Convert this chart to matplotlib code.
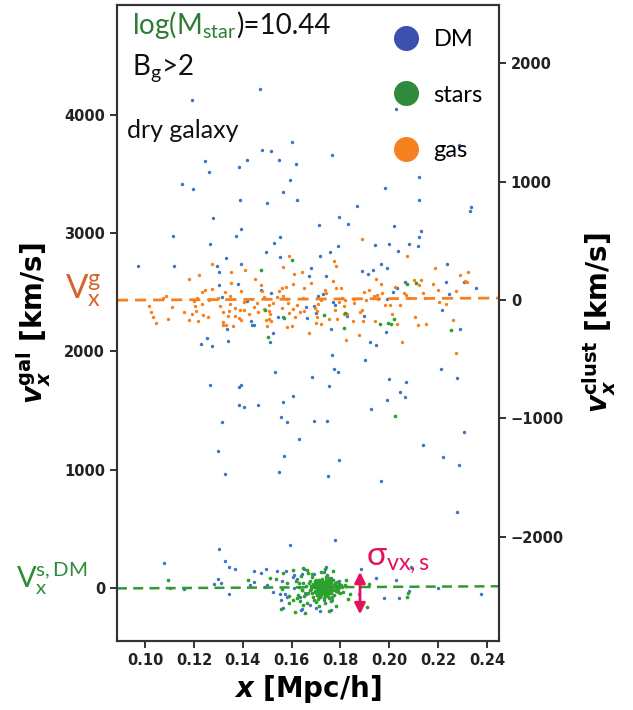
import matplotlib
matplotlib.use('Agg')
import matplotlib.pyplot as plt
from matplotlib.lines import Line2D
import numpy as np

plt.rcParams['mathtext.fontset'] = 'custom'
plt.rcParams['mathtext.rm'] = 'Lato'
plt.rcParams['mathtext.it'] = 'Lato:italic'
plt.rcParams['mathtext.sf'] = 'Lato'
plt.rcParams['mathtext.bf'] = 'DejaVu Sans:bold'
plt.rcParams['mathtext.bfit'] = 'DejaVu Sans:italic:bold'

# ---- data ----
# dark matter particles (x [Mpc/h], v_x gal [km/s])
dm_x = [0.1471, 0.1192, 0.2027, 0.2285, 0.1601, 0.1479, 0.1516, 0.1765, 0.1246, 0.1418,
        0.1549, 0.1618, 0.1385, 0.1262, 0.2122, 0.1594, 0.1151, 0.1196, 0.1982, 0.1565,
        0.1389, 0.1622, 0.2122, 0.1499, 0.1868, 0.2334, 0.2330, 0.1278, 0.1794,
        0.1115, 0.1393, 0.1373, 0.1712, 0.1831, 0.2019, 0.2130, 0.2122, 0.1553, 0.1266,
        0.1528, 0.1790, 0.1942, 0.1998, 0.2080, 0.2117, 0.1495, 0.1757, 0.2036, 0.1332,
        0.1553, 0.1716, 0.0971, 0.1119, 0.1393, 0.1295, 0.1679, 0.1966, 0.1990, 0.2236,
        0.1303, 0.1888, 0.1912, 0.1933, 0.1671, 0.1740, 0.1380, 0.1303, 0.2064, 0.2232,
        0.2354, 0.1475, 0.2032, 0.1516, 0.2015, 0.2244, 0.2305, 0.1708, 0.1728, 0.1315,
        0.1417, 0.1769, 0.1990, 0.1659, 0.1691, 0.1777, 0.2216, 0.1700, 0.1544, 0.1565,
        0.1663, 0.1826, 0.1896, 0.1434, 0.1438, 0.1446, 0.1336, 0.1524, 0.1761, 0.1986,
        0.2289, 0.1254,
        0.1229, 0.1274, 0.1340, 0.1512, 0.1921, 0.1946, 0.1765, 0.1900, 0.1774, 0.1790,
        0.1532, 0.2212, 0.1683, 0.2277, 0.1998, 0.2068, 0.1266, 0.1393, 0.1385, 0.1753,
        0.2044, 0.2064, 0.1605, 0.1990, 0.1565, 0.1385, 0.1405, 0.1462, 0.1925, 0.1556,
        0.1581, 0.1691, 0.1744, 0.1315, 0.2305, 0.1630, 0.2138, 0.1299, 0.1569, 0.2220,
        0.1794, 0.2285,
        0.1328, 0.1549, 0.1749, 0.1966, 0.2277, 0.1303, 0.1594, 0.1778,
        0.1078, 0.1328, 0.1344, 0.1368, 0.1299, 0.1282, 0.1311, 0.1344, 0.1446, 0.1475,
        0.1495, 0.1540, 0.1577, 0.1561, 0.1446, 0.1499, 0.1430, 0.1524, 0.1553, 0.1573,
        0.1581, 0.1556, 0.1638, 0.1565, 0.1491, 0.1605, 0.1622, 0.1642, 0.1650, 0.1609,
        0.1634, 0.1609, 0.1691, 0.1732, 0.1740, 0.1761, 0.1794, 0.1655, 0.1712, 0.1732,
        0.1765, 0.1675, 0.1700, 0.1716, 0.1761, 0.1642, 0.1884, 0.1945, 0.1978, 0.2039,
        0.1876, 0.2088, 0.2027, 0.2080, 0.2199, 0.1159, 0.1102, 0.2377]
dm_v = [4217, 4124, 4048, 3743, 3769, 3701, 3693, 3659, 3608, 3617,
        3617, 3583, 3557, 3515, 3473, 3448, 3414, 3372, 3380, 3346,
        3279, 3279, 3279, 3253, 3228, 3219, 3186, 3127, 3135,
        2974, 3034, 2974, 3067, 3076, 3059, 3017, 2966, 2966, 2907,
        2915, 2890, 2898, 2907, 2907, 2890, 2839, 2839, 2848, 2789,
        2797, 2805, 2721, 2721, 2738, 2721, 2704, 2738, 2704, 2738,
        2670, 2679, 2653, 2687, 2636, 2636, 2569, 2560, 2586, 2586,
        2535, 2518, 2535, 2493, 2501, 2484, 2586, 2467, 2484, 2459,
        2425, 2417, 2442, 2374, 2383, 2391, 2349, 2324, 2290, 2290,
        2282, 2298, 2298, 2256, 2222, 2222, 2189, 2155, 2189, 2163,
        2189, 2113,
        2062, 2045, 2087, 2079, 2079, 2053, 1969, 1927, 1851, 1825,
        1825, 1851, 1783, 1775, 1766, 1741, 1715, 1715, 1698, 1707,
        1656, 1614, 1622, 1589, 1572, 1546, 1529, 1546, 1513, 1445,
        1403, 1411, 1411, 1403, 1318, 1259, 1208, 1158, 1115, 1107,
        1082, 1039,
        963, 980, 946, 904, 642, 330, 363, 406,
        211, 228, 177, 161, 76, 34, 42, -51, 144, 127,
        161, 144, 144, 59, 51, 25, 25, -34, -51, -51,
        -76, -101, -186, -169, 8, 93, 76, 118, 161, 0,
        -76, 110, 118, 135, 177, 85, 59, -42, -68, -101,
        -101, -144, -169, -194, -186, -177, 161, 85, -85, -85,
        -51, 177, 68, -25, 0, -8, 0, -51]

# gas particles
gas_x = [0.1888, 0.1589, 0.1773, 0.1781, 0.1274, 0.1565, 0.1409, 0.1352, 0.1642, 0.2072,
         0.2186, 0.2321, 0.2289, 0.1221, 0.1180, 0.1450, 0.1609, 0.1945, 0.1769, 0.1679,
         0.1352, 0.1605, 0.1475, 0.1966, 0.2101, 0.2130, 0.2179, 0.2309, 0.2317, 0.1577,
         0.1561, 0.1548, 0.1650, 0.1781, 0.1802, 0.2023, 0.2122, 0.1274, 0.1246, 0.1233,
         0.1327, 0.1393, 0.1479, 0.1737, 0.1741, 0.1896, 0.1917, 0.1970, 0.2060, 0.2138,
         0.2199, 0.2273, 0.1086, 0.1074, 0.1213, 0.1262, 0.1299, 0.1348, 0.1487, 0.1540,
         0.1565, 0.1581, 0.1646, 0.1720, 0.1806, 0.1818, 0.1855, 0.1904, 0.1937, 0.1949,
         0.1953, 0.2068, 0.2080, 0.2146, 0.2203, 0.2232, 0.1200, 0.1233, 0.1348, 0.1405,
         0.1458, 0.1508, 0.1524, 0.1585, 0.1622, 0.1708, 0.1794, 0.1855, 0.1982, 0.2003,
         0.2044, 0.1016, 0.1110, 0.1205, 0.1307, 0.1368, 0.1446, 0.1487, 0.1561, 0.1605,
         0.1696, 0.1814, 0.1888, 0.1025, 0.1160, 0.1209, 0.1319, 0.1344, 0.1389, 0.1405,
         0.1462, 0.1508, 0.1634, 0.1650, 0.1704, 0.1777, 0.1826, 0.1880, 0.2011, 0.1192,
         0.1237, 0.1340, 0.1368, 0.1425, 0.1512, 0.1589, 0.1614, 0.1704, 0.1753, 0.1786,
         0.1814, 0.1033, 0.1094, 0.1180, 0.1258, 0.1385, 0.1495, 0.1508, 0.1851, 0.1892,
         0.2105, 0.1217, 0.1319, 0.1045, 0.1393, 0.1516, 0.1700, 0.1942, 0.2032, 0.2117,
         0.2150, 0.2260, 0.1319, 0.1332, 0.1360, 0.1499, 0.1581, 0.1601, 0.1720, 0.1671,
         0.1876, 0.1822, 0.2052, 0.2273]
gas_v = [2949, 2805, 2763, 2721, 2738, 2712, 2687, 2670, 2670, 2805,
         2704, 2670, 2645, 2645, 2611, 2611, 2653, 2611, 2594, 2577,
         2577, 2569, 2560, 2569, 2603, 2603, 2569, 2594, 2586, 2543,
         2535, 2510, 2535, 2535, 2535, 2543, 2560, 2527, 2518, 2501,
         2501, 2510, 2510, 2518, 2493, 2501, 2518, 2493, 2493, 2493,
         2518, 2510, 2467, 2451, 2451, 2434, 2451, 2467, 2459, 2459,
         2467, 2442, 2451, 2434, 2451, 2434, 2442, 2434, 2467, 2476,
         2442, 2476, 2451, 2451, 2417, 2400, 2425, 2400, 2400, 2417,
         2408, 2391, 2408, 2408, 2391, 2400, 2417, 2408, 2391, 2391,
         2391, 2383, 2374, 2383, 2383, 2366, 2374, 2358, 2366, 2358,
         2366, 2383, 2349, 2332, 2332, 2341, 2332, 2341, 2349, 2349,
         2332, 2341, 2332, 2341, 2341, 2349, 2315, 2332, 2315, 2315,
         2307, 2298, 2298, 2315, 2315, 2324, 2290, 2290, 2273, 2273,
         2315, 2290, 2273, 2265, 2290, 2282, 2265, 2273, 2256, 2256,
         2290, 2256, 2248, 2239, 2265, 2256, 2239, 2256, 2231, 2222,
         2231, 2265, 2222, 2222, 2214, 2214, 2205, 2214, 2231, 2155,
         2138, 2096, 2079, 1986]

# star particles
star_x = [0.1475, 0.1601, 0.2073, 0.2110, 0.1491, 0.1569, 0.1732, 0.1818, 0.1994, 0.2006,
          0.2019, 0.1962, 0.1814, 0.2252, 0.1503, 0.2023,
          0.1094, 0.1421, 0.1512, 0.1565, 0.1536, 0.1561, 0.1589, 0.1556, 0.1605, 0.1646,
          0.1630, 0.1642, 0.1659, 0.1646, 0.1663, 0.1802, 0.1839, 0.1908, 0.1916, 0.2076,
          0.2072,
          0.1660, 0.1668, 0.1675, 0.1680, 0.1685, 0.1688, 0.1692, 0.1695, 0.1698, 0.1700,
          0.1702, 0.1705, 0.1707, 0.1709, 0.1710, 0.1712, 0.1714, 0.1715, 0.1717, 0.1718,
          0.1720, 0.1721, 0.1723, 0.1724, 0.1726, 0.1727, 0.1729, 0.1730, 0.1732, 0.1733,
          0.1735, 0.1737, 0.1738, 0.1740, 0.1742, 0.1744, 0.1746, 0.1748, 0.1750, 0.1752,
          0.1755, 0.1758, 0.1760, 0.1763, 0.1766, 0.1770, 0.1774, 0.1778, 0.1782, 0.1786,
          0.1790, 0.1652, 0.1648, 0.1643, 0.1638, 0.1635, 0.1630, 0.1626, 0.1795, 0.1800,
          0.1806, 0.1812, 0.1818, 0.1684, 0.1720, 0.1745, 0.1700, 0.1735, 0.1760, 0.1690,
          0.1668, 0.1712, 0.1580, 0.1590, 0.1605, 0.1615, 0.1618, 0.1622, 0.1655, 0.1665,
          0.1735, 0.1752, 0.1770, 0.1780, 0.1823, 0.1830,
          0.1693, 0.1697, 0.1701, 0.1703, 0.1706, 0.1708, 0.1711, 0.1713, 0.1716, 0.1719,
          0.1722, 0.1725, 0.1728, 0.1731, 0.1734, 0.1736, 0.1739, 0.1741, 0.1743, 0.1745,
          0.1747, 0.1749, 0.1751, 0.1753, 0.1756, 0.1759, 0.1762, 0.1765, 0.1768, 0.1772,
          0.1696, 0.1704, 0.1712, 0.1718, 0.1726, 0.1733, 0.1740, 0.1748, 0.1756, 0.1764,
          0.1686, 0.1682, 0.1678, 0.1674, 0.1671, 0.1776, 0.1780, 0.1784, 0.1788, 0.1792]
star_v = [2687, 2772, 2569, 2577, 2349, 2282, 2307, 2324, 2239, 2231,
          2273, 2231, 2197, 2180, 2121, 1453,
          68, 68, 85, 127, 76, -8, -68, -177, -101, 169,
          42, -17, -51, -144, -127, 25, -51, -161, 34, -42,
          -76,
          20, -40, 60, -10, 95, -75, 30, -30, 5, 70,
          -55, 15, -15, 45, -90, 0, 25, -35, 55, -5,
          10, -60, 35, -20, 80, 5, -45, 20, -10, 50,
          -70, 0, 30, -30, 65, 10, -50, 40, -15, 85,
          -85, 20, -40, 45, -5, 70, -60, 15, -25, 50,
          -10, -70, 40, -20, 100, -110, 10, -55, 30, -45,
          5, -30, 25, 120, 135, 110, -120, -130, -110, -100,
          130, -150, 40, -130, 150, -200, 60, -80, -210, 150,
          160, -190, 140, -150, 70, -95,
          12, -22, 38, -8, 52, -38, 18, -28, 42, -48,
          22, -12, 32, -32, 12, -52, 48, -2, 28, -22,
          58, 2, -38, 18, -8, 38, -28, 8, -18, 28,
          62, -62, 72, -72, 62, -85, 90, -65, 65, -75,
          35, -45, 15, -20, 45, 40, -5, 20, -35, 10]

# mean velocities (dashed fits) and dispersion arrow
gas_mean = [2432, 2450]      # at left / right edge
star_mean = [-3, 15]
sigma_x = 0.188
sigma_lo, sigma_hi = -245, 160
offset_clust = 2434           # v_gal - v_clust

xlim = (0.0885, 0.2449)
ylim = (-445, 4926)

c_dm = '#3a76c2'
c_gas = '#f8801c'
c_star = '#2ea02e'

fig = plt.figure(figsize=(6.33, 7.10), dpi=100)
ax = fig.add_axes([0.1848, 0.0976, 0.6035, 0.8954])

ax.scatter(dm_x, dm_v, s=6, color=c_dm, lw=0, zorder=2)
ax.scatter(gas_x, gas_v, s=6, color=c_gas, lw=0, zorder=2)
ax.scatter(star_x, star_v, s=7, color=c_star, lw=0, zorder=3)

ax.plot(xlim, gas_mean, ls='--', color=c_gas, lw=2, dashes=(4, 2.5), zorder=4)
ax.plot(xlim, star_mean, ls='--', color='#2e9a34', lw=1.8, dashes=(4, 2.5), zorder=4)

ax.annotate('', xy=(sigma_x, sigma_hi), xytext=(sigma_x, sigma_lo),
            arrowprops=dict(arrowstyle='<|-|>', color='#e3135a', lw=2,
                            mutation_scale=16), zorder=5)

ax.set_xlim(*xlim)
ax.set_ylim(*ylim)
ax.set_xticks([0.10, 0.12, 0.14, 0.16, 0.18, 0.20, 0.22, 0.24])
ax.set_yticks([0, 1000, 2000, 3000, 4000])
ax.set_xticklabels(['%.2f' % t for t in ax.get_xticks()])

ax2 = ax.twinx()
ax2.set_ylim(ylim[0] - offset_clust, ylim[1] - offset_clust)
ax2.set_yticks([-2000, -1000, 0, 1000, 2000])
ax2.set_yticklabels(['\u22122000', '\u22121000', '0', '1000', '2000'])

for a in (ax, ax2):
    a.tick_params(labelsize=10.5, width=1.3, length=5, colors='#222222')
    for lab in a.get_xticklabels() + a.get_yticklabels():
        lab.set_fontweight('bold')
        lab.set_family('DejaVu Sans')
    for sp in a.spines.values():
        sp.set_linewidth(1.5)
        sp.set_color('#333333')

lab_kw = dict(fontsize=20, fontweight='bold', family='DejaVu Sans')
ax.set_xlabel(r'$\boldsymbol{x}$ [Mpc/h]', labelpad=4, **lab_kw)
ax.set_ylabel(r'$\boldsymbol{v}_\boldsymbol{x}^\mathbf{gal}$ [km/s]', labelpad=8, **lab_kw)
ax2.set_ylabel(r'$\boldsymbol{v}_\boldsymbol{x}^\mathbf{clust}$ [km/s]', labelpad=12, **lab_kw)

# annotations
nf = ['Lato', 'DejaVu Sans']
t1 = ax.text(0.04, 0.955, r'log(M$_{\rm star}$', transform=ax.transAxes, fontsize=20,
             color='#2e7d32', va='baseline', ha='left', family=nf)
fig.canvas.draw()
bb = t1.get_window_extent().transformed(ax.transAxes.inverted())
ax.text(bb.x1, 0.955, ')=10.44', transform=ax.transAxes, fontsize=20,
        color='#111111', va='baseline', ha='left', family=nf)
ax.text(0.04, 0.89, r'B$_{\rm g}$>2', transform=ax.transAxes, fontsize=20,
        color='#111111', va='baseline', ha='left', family=nf)
ax.text(0.025, 0.82, 'dry galaxy', transform=ax.transAxes, fontsize=18,
        color='#111111', va='top', ha='left', family=nf)

handles = [Line2D([], [], marker='o', ls='', ms=17, color='#3b51ad'),
           Line2D([], [], marker='o', ls='', ms=17, color='#318a3c'),
           Line2D([], [], marker='o', ls='', ms=17, color='#f6821f')]
ax.legend(handles, ['DM', 'stars', 'gas'], loc='upper left',
          bbox_to_anchor=(0.64, 0.995), frameon=False, labelspacing=1.45,
          handletextpad=0.15, prop={'family': nf, 'size': 17})

fig.text(0.103, 0.59, r'V$_{\rm x}^{\rm g}$', fontsize=24, color='#d5642b',
         family=nf, ha='left', va='center')
fig.text(0.025, 0.185, r'V$_{\rm x}^{\rm s,DM}$', fontsize=21, color='#2e8b3a',
         family=nf, ha='left', va='center')
ax.text(0.1905, 110, r'σ$_{\rm vx,s}$', fontsize=24, color='#e3135a',
        ha='left', va='bottom', family=nf)

fig.savefig('out.png', dpi=100)
